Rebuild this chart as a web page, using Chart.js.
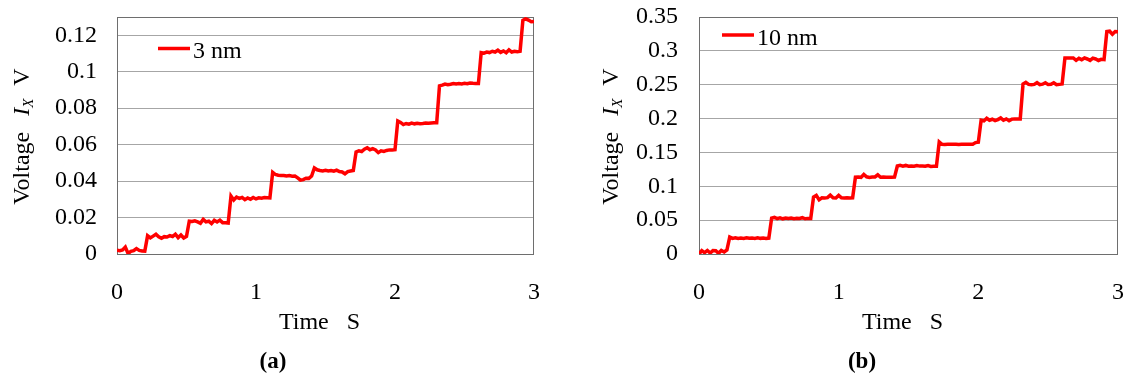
<!DOCTYPE html>
<html>
<head>
<meta charset="utf-8">
<script src="https://cdn.jsdelivr.net/npm/chart.js@4.4.1/dist/chart.umd.min.js"></script>
<style>
  html, body { margin: 0; padding: 0; background: #ffffff; }
  #fig { position: relative; width: 1128px; height: 376px; overflow: hidden; }
  canvas { position: absolute; top: 0; }
  .cap { position: absolute; top: 346px; width: 60px; text-align: center;
         font: bold 23px "Liberation Serif", serif; color: #000; line-height: 30px; }
</style>
</head>
<body>
<div id="fig">
  <canvas id="chartA" width="564" height="376" style="left:0px"></canvas>
  <canvas id="chartB" width="564" height="376" style="left:564px"></canvas>
  <div class="cap" style="left:243px">(a)</div>
  <div class="cap" style="left:832px">(b)</div>
</div>
<script>
// ---------------- data ----------------
const time = [0,0.02,0.04,0.06,0.08,0.1,0.12,0.14,0.16,0.18,
  0.2,0.22,0.24,0.26,0.28,0.3,0.32,0.34,0.36,0.38,
  0.4,0.42,0.44,0.46,0.48,0.5,0.52,0.54,0.56,0.58,
  0.6,0.62,0.64,0.66,0.68,0.7,0.72,0.74,0.76,0.78,
  0.8,0.82,0.84,0.86,0.88,0.9,0.92,0.94,0.96,0.98,
  1,1.02,1.04,1.06,1.08,1.1,1.12,1.14,1.16,1.18,
  1.2,1.22,1.24,1.26,1.28,1.3,1.32,1.34,1.36,1.38,
  1.4,1.42,1.44,1.46,1.48,1.5,1.52,1.54,1.56,1.58,
  1.6,1.62,1.64,1.66,1.68,1.7,1.72,1.74,1.76,1.78,
  1.8,1.82,1.84,1.86,1.88,1.9,1.92,1.94,1.96,1.98,
  2,2.02,2.04,2.06,2.08,2.1,2.12,2.14,2.16,2.18,
  2.2,2.22,2.24,2.26,2.28,2.3,2.32,2.34,2.36,2.38,
  2.4,2.42,2.44,2.46,2.48,2.5,2.52,2.54,2.56,2.58,
  2.6,2.62,2.64,2.66,2.68,2.7,2.72,2.74,2.76,2.78,
  2.8,2.82,2.84,2.86,2.88,2.9,2.92,2.94,2.96,2.98,
  3];

const voltage3nm = [
  0.0020,0.0018,0.0022,0.0038,0.0002,0.0015,0.0018,0.0030,0.0020,0.0017,0.0016,
  0.0100,0.0088,0.0098,0.0108,0.0094,0.0086,0.0095,0.0093,0.0101,0.0096,0.0109,0.0090,0.0104,0.0088,0.0097,
  0.0180,0.0178,0.0182,0.0176,0.0169,0.0190,0.0176,0.0180,0.0167,0.0185,0.0176,0.0186,0.0172,0.0172,0.0170,
  0.0318,0.0296,0.0312,0.0305,0.0310,0.0298,0.0307,0.0300,0.0310,0.0302,0.0308,0.0306,0.0310,0.0309,0.0308,
  0.0448,0.0436,0.0432,0.0430,0.0431,0.0428,0.0430,0.0427,0.0428,0.0418,0.0405,0.0408,0.0416,0.0415,0.0428,
  0.0472,0.0462,0.0458,0.0456,0.0459,0.0455,0.0458,0.0454,0.0460,0.0452,0.0450,0.0440,0.0452,0.0455,0.0458,
  0.0560,0.0566,0.0562,0.0575,0.0583,0.0572,0.0578,0.0571,0.0556,0.0566,0.0563,0.0568,0.0571,0.0570,0.0572,
  0.0730,0.0722,0.0710,0.0716,0.0712,0.0718,0.0714,0.0717,0.0715,0.0716,0.0718,0.0717,0.0719,0.0720,0.0720,
  0.0922,0.0926,0.0932,0.0929,0.0931,0.0935,0.0932,0.0935,0.0933,0.0936,0.0934,0.0938,0.0936,0.0935,0.0935,
  0.1105,0.1102,0.1108,0.1105,0.1112,0.1108,0.1118,0.1106,0.1114,0.1104,0.1120,0.1108,0.1112,0.1110,0.1112,
  0.1282,0.1290,0.1283,0.1274,0.1276];

const voltage10nm = [
  0.0000,0.0050,0.0020,0.0052,0.0015,0.0050,0.0048,0.0010,0.0052,0.0030,0.0060,
  0.0250,0.0230,0.0238,0.0228,0.0236,0.0230,0.0240,0.0232,0.0236,0.0230,0.0239,0.0231,0.0236,0.0230,0.0235,
  0.0530,0.0540,0.0522,0.0535,0.0520,0.0532,0.0524,0.0530,0.0522,0.0528,0.0525,0.0536,0.0520,0.0526,0.0525,
  0.0840,0.0865,0.0800,0.0830,0.0828,0.0832,0.0868,0.0830,0.0828,0.0866,0.0830,0.0828,0.0830,0.0828,0.0830,
  0.1135,0.1138,0.1132,0.1175,0.1140,0.1130,0.1136,0.1138,0.1170,0.1134,0.1136,0.1132,0.1135,0.1134,0.1135,
  0.1300,0.1310,0.1298,0.1308,0.1296,0.1300,0.1297,0.1306,0.1298,0.1300,0.1296,0.1305,0.1294,0.1296,0.1295,
  0.1655,0.1620,0.1618,0.1620,0.1619,0.1620,0.1620,0.1618,0.1620,0.1619,0.1620,0.1622,0.1620,0.1645,0.1650,
  0.1975,0.1965,0.2005,0.1975,0.1990,0.1970,0.1985,0.2010,0.1975,0.1995,0.1968,0.1992,0.1995,0.1995,0.1995,
  0.2510,0.2535,0.2505,0.2500,0.2505,0.2530,0.2500,0.2508,0.2530,0.2502,0.2505,0.2528,0.2500,0.2505,0.2510,
  0.2895,0.2895,0.2893,0.2895,0.2860,0.2890,0.2870,0.2895,0.2880,0.2860,0.2893,0.2880,0.2858,0.2875,0.2870,
  0.3285,0.3290,0.3245,0.3285,0.3282];

const xTicks = [0, 1, 2, 3];
const yTicksA = [0, 0.02, 0.04, 0.06, 0.08, 0.1, 0.12];
const yLabelsA = ['0', '0.02', '0.04', '0.06', '0.08', '0.1', '0.12'];
const yTicksB = [0, 0.05, 0.1, 0.15, 0.2, 0.25, 0.3, 0.35];
const yLabelsB = ['0', '0.05', '0.1', '0.15', '0.2', '0.25', '0.3', '0.35'];
const seriesNameA = '3 nm';
const seriesNameB = '10 nm';
const xTitleParts = ['Time', 'S'];
const yTitleParts = ['Voltage', 'I', 'X', 'V'];

// ---------------- drawing helpers ----------------
const FONT = '"Liberation Serif", "Times New Roman", serif';
const RED = '#ff0000';

const decorPlugin = {
  id: 'decor',
  beforeDatasetsDraw(chart) {
    const { ctx, chartArea: a } = chart;
    ctx.save();
    ctx.strokeStyle = '#6e6e6e';
    ctx.lineWidth = 1;
    ctx.strokeRect(Math.round(a.left) + 0.5, Math.round(a.top) + 0.5,
      Math.round(a.right - a.left) - 1, Math.round(a.bottom - a.top));
    ctx.restore();
  },
  afterDraw(chart, args, opts) {
    const { ctx, chartArea: a } = chart;
    ctx.save();
    ctx.fillStyle = '#000';
    // legend (inside plot)
    const lx = a.left + opts.legendDx, ly = opts.legendY;
    ctx.strokeStyle = RED; ctx.lineWidth = 3.5; ctx.lineCap = 'butt';
    ctx.beginPath(); ctx.moveTo(lx, ly); ctx.lineTo(lx + 32, ly); ctx.stroke();
    ctx.font = '24px ' + FONT; ctx.textBaseline = 'alphabetic'; ctx.textAlign = 'left';
    ctx.fillText(opts.legendText, lx + 35, ly + 9.5);

    // x-axis title
    ctx.font = '24px ' + FONT;
    const gap = 18;
    const wT = ctx.measureText(xTitleParts[0]).width, wS = ctx.measureText(xTitleParts[1]).width;
    const cx = (a.left + a.right) / 2 - 6;
    let x0 = cx - (wT + gap + wS) / 2;
    ctx.fillText(xTitleParts[0], x0, 329);
    ctx.fillText(xTitleParts[1], x0 + wT + gap, 329);

    // y-axis title (rotated) : Voltage  I_X  V
    const f = '24px ' + FONT, fi = 'italic 24px ' + FONT, fs = 'italic 15px ' + FONT;
    ctx.font = f; const w1 = ctx.measureText(yTitleParts[0]).width; const wV = ctx.measureText(yTitleParts[3]).width;
    ctx.font = fi; const wI = ctx.measureText(yTitleParts[1]).width;
    ctx.font = fs; const wX = ctx.measureText(yTitleParts[2]).width;
    const g1 = 16, g2 = 13;
    const total = w1 + g1 + wI + wX + g2 + wV;
    ctx.translate(opts.yTitleX, (a.top + a.bottom) / 2 + 1);
    ctx.rotate(-Math.PI / 2);
    let p = -total / 2;
    ctx.font = f; ctx.fillText(yTitleParts[0], p, 0); p += w1 + g1;
    ctx.font = fi; ctx.fillText(yTitleParts[1], p, 0); p += wI;
    ctx.font = fs; ctx.fillText(yTitleParts[2], p, 4); p += wX + g2;
    ctx.font = f; ctx.fillText(yTitleParts[3], p, 0);
    ctx.restore();
  }
};

function makeChart(id, values, name, yMax, yTicks, yLabels, yAxisWidth, padRight, opts) {
  const points = time.map((t, i) => ({ x: t, y: values[i] }));
  return new Chart(document.getElementById(id), {
    type: 'line',
    data: { datasets: [{ label: name, data: points, borderColor: RED, borderWidth: 3.5,
      pointRadius: 0, tension: 0, fill: false }] },
    options: {
      responsive: false, animation: false, devicePixelRatio: 1,
      layout: { padding: { left: 0, right: padRight, top: 17, bottom: 0 } },
      plugins: { legend: { display: false }, tooltip: { enabled: false }, decor: opts },
      scales: {
        x: {
          type: 'linear', min: 0, max: 3,
          afterBuildTicks: (s) => { s.ticks = xTicks.map(v => ({ value: v })); },
          afterFit: (s) => { s.height = 122; s.paddingLeft = 0; s.paddingRight = 0; },
          grid: { display: false, drawTicks: false },
          border: { display: false },
          ticks: { padding: 24, color: '#000', font: { family: FONT, size: 24 }, maxRotation: 0,
            autoSkip: false, callback: (v) => String(v) }
        },
        y: {
          type: 'linear', min: 0, max: yMax,
          afterBuildTicks: (s) => { s.ticks = yTicks.map(v => ({ value: v })); },
          afterFit: (s) => { s.width = yAxisWidth; s.paddingTop = 0; s.paddingBottom = 0; },
          grid: { color: '#a6a6a6', lineWidth: 1, drawTicks: false },
          border: { display: false },
          ticks: { padding: opts.yPad, color: '#000', font: { family: FONT, size: 24 },
            autoSkip: false, callback: (v, i) => yLabels[i] }
        }
      }
    },
    plugins: [decorPlugin]
  });
}

makeChart('chartA', voltage3nm, seriesNameA, 0.13, yTicksA, yLabelsA, 117, 30,
  { legendDx: 41, legendY: 48.5, legendText: seriesNameA, yTitleX: 29, yPad: 20 });
makeChart('chartB', voltage10nm, seriesNameB, 0.35, yTicksB, yLabelsB, 135, 10,
  { legendDx: 23, legendY: 35, legendText: seriesNameB, yTitleX: 54, yPad: 21 });
</script>
</body>
</html>
